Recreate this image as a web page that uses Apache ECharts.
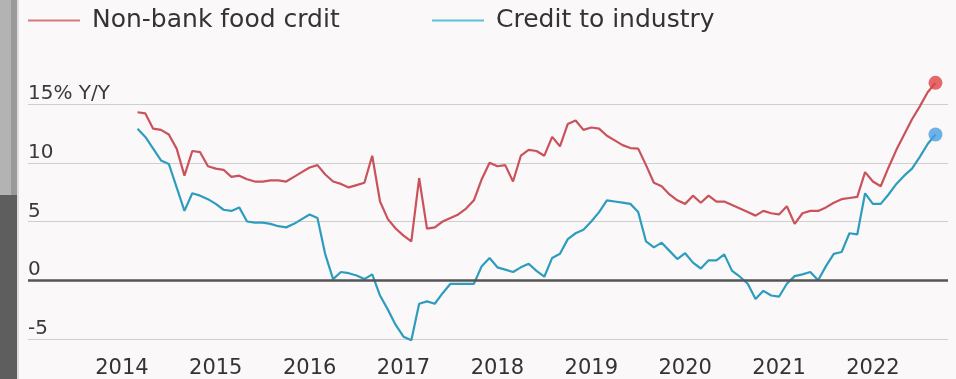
<!DOCTYPE html>
<html>
<head>
<meta charset="utf-8">
<script src="https://cdn.jsdelivr.net/npm/echarts@6/dist/echarts.min.js"></script>
<style>
  html, body { margin: 0; padding: 0; background: #fbf8f9; }
  #chart { width: 956px; height: 379px; }
</style>
</head>
<body>
<div id="chart"></div>
<script>
// Months from 2014-03 to 2022-09 (monthly readings)
const monthCount = 103;
const months = [];
for (let i = 0; i < monthCount; i++) {
  const y = 2014 + Math.floor((2 + i) / 12);
  const m = ((2 + i) % 12) + 1;
  months.push(y + '-' + String(m).padStart(2, '0'));
}

const seriesNames = ['Non-bank food crdit', 'Credit to industry'];

const nonBankFood = [
  14.3, 14.2, 12.9, 12.8, 12.4, 11.2, 8.9, 11.0, 10.9, 9.7,
  9.5, 9.4, 8.8, 8.9, 8.6, 8.4, 8.4, 8.5, 8.5, 8.4,
  8.8, 9.2, 9.6, 9.8, 9.0, 8.4, 8.2, 7.9, 8.1, 8.3,
  10.6, 6.7, 5.2, 4.4, 3.8, 3.3, 8.7, 4.4, 4.5, 5.0,
  5.3, 5.6, 6.1, 6.8, 8.6, 10.0, 9.7, 9.8, 8.4, 10.6,
  11.1, 11.0, 10.6, 12.2, 11.4, 13.3, 13.6, 12.8, 13.0, 12.9,
  12.3, 11.9, 11.5, 11.25, 11.2, 9.8, 8.3, 8.0, 7.3, 6.8,
  6.5, 7.2, 6.6, 7.2, 6.7, 6.7, 6.4, 6.1, 5.8, 5.5,
  5.9, 5.7, 5.6, 6.3, 4.8, 5.7, 5.9, 5.9, 6.2, 6.6,
  6.9, 7.0, 7.1, 9.2, 8.4, 8.0, 9.6, 11.1, 12.4, 13.7,
  14.8, 16.0, 16.8
];

const industry = [
  12.9, 12.2, 11.2, 10.2, 9.9, 7.9, 5.9, 7.4, 7.2, 6.9,
  6.5, 6.0, 5.9, 6.2, 5.0, 4.9, 4.9, 4.8, 4.6, 4.5,
  4.8, 5.2, 5.6, 5.3, 2.2, 0.1, 0.7, 0.6, 0.4, 0.1,
  0.5, -1.3, -2.5, -3.8, -4.8, -5.1, -2.0, -1.8, -2.0, -1.1,
  -0.3, -0.3, -0.3, -0.3, 1.2, 1.9, 1.1, 0.9, 0.7, 1.1,
  1.4, 0.8, 0.3, 1.9, 2.25, 3.5, 4.0, 4.3, 5.0, 5.8,
  6.8, 6.7, 6.6, 6.5, 5.8, 3.3, 2.8, 3.2, 2.5, 1.8,
  2.3, 1.5, 1.0, 1.7, 1.7, 2.2, 0.8, 0.3, -0.3, -1.6,
  -0.9, -1.3, -1.4, -0.3, 0.35, 0.5, 0.7, 0.0, 1.2, 2.25,
  2.4, 4.0, 3.9, 7.4, 6.5, 6.5, 7.3, 8.2, 8.9, 9.5,
  10.5, 11.6, 12.4
];

const yTicks = [-5, 0, 5, 10, 15];
const yearLabels = ['2014', '2015', '2016', '2017', '2018', '2019', '2020', '2021', '2022'];

// month index relative to Jan 2014
function monthIndex(s) {
  const [y, m] = s.split('-').map(Number);
  return (y - 2014) * 12 + (m - 1);
}
const pairs = arr => arr.map((v, i) => [monthIndex(months[i]), v]);

const FONT = 'DejaVu Sans';
const chart = echarts.init(document.getElementById('chart'));
const lastIdx = months.length - 1;

const legendBase = {
  top: 8,
  padding: 0,
  itemWidth: 52,
  itemHeight: 2,
  icon: 'rect',
  textStyle: { fontSize: 25, color: '#333', fontFamily: FONT, padding: [0, 0, 0, 7] }
};

chart.setOption({
  backgroundColor: '#fbf8f9',
  animation: false,
  textStyle: { fontFamily: FONT },
  graphic: [
    { type: 'rect', shape: { x: 0, y: 0, width: 11, height: 195 }, style: { fill: '#b3b3b3' } },
    { type: 'rect', shape: { x: 11, y: 0, width: 6, height: 195 }, style: { fill: '#999999' } },
    { type: 'rect', shape: { x: 0, y: 195, width: 17, height: 184 }, style: { fill: '#5e5e5e' } },
    { type: 'rect', shape: { x: 17, y: 0, width: 2, height: 379 }, style: { fill: '#dddddd' } }
  ],
  legend: [
    Object.assign({ left: 28, data: [seriesNames[0]] }, legendBase),
    Object.assign({ left: 432, data: [seriesNames[1]] }, legendBase)
  ],
  grid: { left: 28, right: 8, top: 104, bottom: 39, containLabel: false },
  xAxis: {
    type: 'value',
    min: -12,
    max: 105.6,
    interval: 12,
    axisLine: { show: false },
    axisTick: { show: false },
    splitLine: { show: false },
    axisLabel: {
      fontSize: 21,
      color: '#333',
      margin: 19,
      fontFamily: FONT,
      formatter: v => {
        const idx = Math.round(v / 12);
        return (idx >= 0 && idx < yearLabels.length && Math.abs(v - idx * 12) < 0.01) ? yearLabels[idx] : '';
      }
    }
  },
  yAxis: {
    type: 'value',
    min: yTicks[0],
    max: yTicks[yTicks.length - 1],
    interval: 5,
    axisLine: { show: false },
    axisTick: { show: false },
    splitLine: { lineStyle: { color: '#cfcfcf', width: 1 } },
    axisLabel: {
      inside: true,
      margin: 0,
      verticalAlign: 'bottom',
      fontSize: 20,
      color: '#3a3a3a',
      fontFamily: FONT,
      formatter: v => (v === 15 ? '15% Y/Y' : String(v))
    }
  },
  series: [
    {
      name: seriesNames[0],
      type: 'line',
      data: pairs(nonBankFood),
      showSymbol: false,
      clip: false,
      color: '#d9767c',
      lineStyle: { width: 2.2, color: '#c9525b' },
      markLine: {
        silent: true,
        symbol: 'none',
        label: { show: false },
        lineStyle: { color: '#555', width: 2.5, type: 'solid' },
        data: [{ yAxis: 0 }]
      },
      z: 3
    },
    {
      name: seriesNames[1],
      type: 'line',
      data: pairs(industry),
      showSymbol: false,
      clip: false,
      color: '#5fc0dc',
      lineStyle: { width: 2.2, color: '#2e9dbd' },
      z: 3
    },
    {
      type: 'scatter',
      data: [[monthIndex(months[lastIdx]), nonBankFood[lastIdx]]],
      symbolSize: 14,
      itemStyle: { color: '#e04343' },
      clip: false,
      z: 5
    },
    {
      type: 'scatter',
      data: [[monthIndex(months[lastIdx]), industry[lastIdx]]],
      symbolSize: 14,
      itemStyle: { color: '#4a9fe2' },
      clip: false,
      z: 5
    }
  ]
});
</script>
</body>
</html>
